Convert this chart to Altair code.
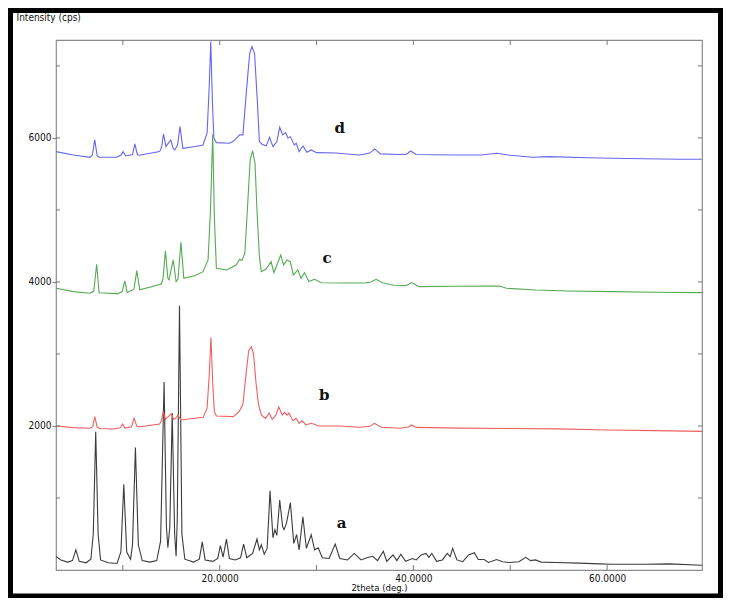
import altair as alt
import pandas as pd

# ---- data: (2theta deg, intensity cps) ----
trace_a = [(3.1, 190), (3.6, 140), (4.3, 110), (4.8, 130), (5.15, 280), (5.5, 120), (6.2, 100),
           (6.7, 150), (6.95, 500), (7.2, 1920), (7.45, 500), (7.7, 140), (8.5, 100), (9.4, 90),
           (9.8, 250), (10.1, 1190), (10.4, 250), (10.8, 150), (11.0, 350), (11.3, 1700), (11.6, 350),
           (12.0, 130), (12.8, 110), (13.5, 130), (13.9, 400), (14.26, 2610), (14.5, 600), (14.65, 310),
           (14.85, 600), (15.1, 2180), (15.35, 500), (15.5, 190), (15.62, 700), (15.85, 3670), (16.1, 500),
           (16.4, 150), (17.3, 110), (17.9, 150), (18.2, 390), (18.5, 140), (19.3, 120), (19.8, 160),
           (20.07, 340), (20.35, 180), (20.7, 430), (21.0, 160), (21.6, 140), (22.15, 170), (22.47, 360),
           (22.8, 170), (23.4, 230), (23.85, 430), (24.1, 280), (24.3, 350), (24.6, 220), (24.9, 300),
           (25.2, 1100), (25.5, 450), (25.7, 560), (25.9, 480), (26.2, 970), (26.5, 600), (26.65, 560),
           (26.9, 650), (27.3, 935), (27.65, 370), (27.94, 490), (28.2, 280), (28.59, 740), (28.95, 300),
           (29.45, 490), (29.8, 280), (30.17, 310), (30.6, 170), (31.3, 160), (31.93, 360), (32.4, 160),
           (33.2, 140), (33.9, 230), (34.6, 140), (35.2, 170), (35.8, 190), (36.3, 130), (36.9, 260),
           (37.25, 120), (37.9, 210), (38.3, 130), (38.7, 220), (39.2, 120), (39.9, 160), (40.3, 140),
           (40.8, 210), (41.3, 230), (41.6, 175), (41.9, 230), (42.4, 120), (43.0, 140), (43.5, 230),
           (43.8, 185), (44.05, 300), (44.5, 140), (45.1, 115), (45.7, 210), (46.3, 240), (46.7, 145),
           (47.3, 145), (47.75, 105), (48.6, 145), (49.2, 115), (49.9, 105), (50.9, 115), (51.6, 175),
           (52.1, 130), (52.6, 140), (53.2, 110), (54.7, 105), (57.1, 95), (59.2, 85), (60.5, 80),
           (64.0, 80), (66.4, 85), (69.8, 65)]

trace_b = [(3.1, 2000), (4.9, 1977), (6.6, 1968), (6.9, 1990), (7.1, 2130), (7.35, 1985), (7.6, 1965),
           (9.0, 1958), (9.75, 1975), (9.97, 2028), (10.25, 1970), (10.9, 1990), (11.16, 2106),
           (11.45, 1995), (11.8, 1990), (13.8, 2028), (14.0, 2080), (14.16, 2199), (14.4, 2090),
           (14.5, 2106), (15.0, 2167), (15.25, 2093), (15.4, 2100), (15.7, 2153), (16.0, 2083),
           (17.0, 2100), (18.3, 2120), (18.7, 2250), (18.92, 2700), (19.1, 3227), (19.28, 2600),
           (19.45, 2200), (19.66, 2139), (21.4, 2130), (22.0, 2199), (22.4, 2300), (22.7, 2700),
           (23.0, 3050), (23.27, 3102), (23.5, 3000), (23.75, 2600), (24.0, 2300), (24.3, 2153),
           (24.74, 2106), (25.1, 2180), (25.43, 2093), (25.8, 2150), (26.1, 2264), (26.46, 2153),
           (26.7, 2190), (26.94, 2150), (27.15, 2180), (27.56, 2074), (27.9, 2106), (28.2, 2037),
           (28.5, 2074), (28.9, 2014), (29.45, 2037), (30.3, 2000), (32.4, 2000), (34.4, 1982),
           (35.5, 1995), (35.98, 2037), (36.7, 1982), (38.6, 1968), (39.5, 1985), (39.8, 2014),
           (40.3, 1980), (45.0, 1970), (50.0, 1965), (55.0, 1960), (60.0, 1944), (65.0, 1935),
           (69.8, 1925)]

trace_c = [(3.1, 3912), (4.9, 3866), (6.6, 3843), (7.0, 3870), (7.3, 4245), (7.55, 3850), (9.5, 3838),
           (9.95, 3870), (10.2, 4014), (10.45, 3855), (11.15, 3900), (11.44, 4157), (11.75, 3890),
           (13.99, 3972), (14.15, 4050), (14.4, 4431), (14.65, 4050), (14.77, 4028), (15.2, 4306),
           (15.5, 4005), (15.7, 4040), (16.0, 4551), (16.3, 4051), (17.5, 4090), (18.28, 4143),
           (18.8, 4306), (19.05, 5000), (19.28, 6050), (19.45, 4900), (19.66, 4190), (20.7, 4167),
           (21.7, 4236), (22.06, 4315), (22.3, 4300), (22.6, 4398), (22.9, 5100), (23.15, 5700),
           (23.4, 5819), (23.65, 5650), (23.85, 5000), (24.1, 4352), (24.3, 4143), (24.8, 4180),
           (25.3, 4282), (25.6, 4130), (26.3, 4375), (26.6, 4236), (26.95, 4306), (27.3, 4282),
           (27.6, 4097), (28.07, 4167), (28.4, 4051), (28.76, 4130), (29.2, 4005), (29.8, 4037),
           (30.5, 3990), (33.0, 3985), (35.0, 3985), (35.6, 4000), (36.15, 4037), (36.8, 3990),
           (38.0, 3954), (39.3, 3950), (39.8, 3991), (40.6, 3935), (44.0, 3940), (48.9, 3944),
           (49.6, 3912), (52.6, 3889), (56.0, 3875), (60.5, 3866), (65.0, 3858), (69.8, 3852)]

trace_d = [(3.1, 5810), (4.9, 5764), (6.6, 5731), (6.85, 5760), (7.1, 5972), (7.35, 5750), (7.6, 5731),
           (9.35, 5731), (9.8, 5760), (10.03, 5810), (10.3, 5750), (11.0, 5770), (11.24, 5917),
           (11.5, 5770), (11.7, 5760), (13.8, 5810), (14.0, 5870), (14.2, 6055), (14.45, 5880),
           (14.57, 5903), (14.95, 5972), (15.2, 5850), (15.36, 5833), (15.65, 5900), (15.9, 6157),
           (16.2, 5856), (17.5, 5880), (18.28, 5903), (18.7, 6065), (18.92, 6713), (19.08, 7340),
           (19.25, 6500), (19.4, 5995), (19.66, 5935), (21.0, 5926), (21.37, 5949), (22.06, 6042),
           (22.4, 6042), (22.8, 6713), (23.1, 7176), (23.33, 7268), (23.6, 7176), (23.9, 6486),
           (24.1, 5949), (24.4, 5910), (24.8, 5890), (25.15, 6009), (25.5, 5880), (25.9, 5950),
           (26.2, 6148), (26.5, 6042), (26.8, 6074), (27.05, 6000), (27.3, 6018), (27.7, 5903),
           (27.9, 5926), (28.2, 5810), (28.6, 5889), (29.0, 5800), (29.45, 5833), (30.0, 5796),
           (32.0, 5790), (34.4, 5764), (35.5, 5790), (36.0, 5847), (36.6, 5778), (38.5, 5770),
           (39.3, 5775), (39.7, 5819), (40.3, 5770), (44.0, 5764), (47.0, 5764), (48.6, 5787),
           (50.0, 5760), (52.3, 5731), (54.0, 5741), (58.0, 5725), (62.0, 5715), (67.4, 5704),
           (69.8, 5704)]

series_names = ["a", "b", "c", "d"]
series_colors = ["#3c3c3c", "#f06060", "#55aa55", "#6666ee"]

label_text = ["a", "b", "c", "d"]
label_deg = [32.6, 30.8, 31.1, 32.4]
label_cps = [650, 2430, 4333, 6139]

x_tick_values = [10, 20, 30, 40, 50, 60]
y_tick_values = [1000, 2000, 3000, 4000, 5000, 6000, 7000]
x_label_values = [20, 40, 60]
y_label_values = [2000, 4000, 6000]

# ---- build tables ----
rows = []
for name, pts in zip(series_names, [trace_a, trace_b, trace_c, trace_d]):
    for d, c in pts:
        rows.append({"deg": d, "cps": c, "series": name})
df = pd.DataFrame(rows)
df_lab = pd.DataFrame({"deg": label_deg, "cps": label_cps, "label": label_text})
df_tx = pd.DataFrame({"t": x_tick_values})
df_ty = pd.DataFrame({"t": y_tick_values})

W, H = 646, 530
FONT = "DejaVu Sans Condensed"
xs = alt.Scale(domain=[3.1, 69.8], nice=False, zero=False)
ys = alt.Scale(domain=[0, 7360], nice=False, zero=False)

x_axis = alt.Axis(values=x_label_values, format=".4f", title="2theta (deg.)",
                  ticks=False, domain=False, grid=False, labelPadding=3,
                  titleY=20, titleBaseline="alphabetic",
                  labelFont=FONT, titleFont=FONT, labelFontSize=10, titleFontSize=9.5,
                  labelColor="#111111", titleColor="#111111", titleFontWeight="normal")
y_axis = alt.Axis(values=y_label_values, format="d", title="Intensity (cps)",
                  titleAngle=0, titleX=-40, titleY=-20, titleAlign="left",
                  titleBaseline="alphabetic", ticks=True, tickSize=4, tickColor="#777777",
                  domain=False, grid=False, labelPadding=1,
                  labelFont=FONT, titleFont=FONT, labelFontSize=10, titleFontSize=10,
                  labelColor="#111111", titleColor="#111111", titleFontWeight="normal")

lines = alt.Chart(df).mark_line(strokeWidth=1.1).encode(
    x=alt.X("deg:Q", scale=xs, axis=x_axis),
    y=alt.Y("cps:Q", scale=ys, axis=y_axis),
    color=alt.Color("series:N", scale=alt.Scale(domain=series_names, range=series_colors),
                    legend=None),
)

labels = alt.Chart(df_lab).mark_text(font="DejaVu Serif", fontWeight="bold", fontSize=15,
                                     color="#111111").encode(
    x=alt.X("deg:Q", scale=xs),
    y=alt.Y("cps:Q", scale=ys),
    text="label:N",
)

tick_color = "#777777"
xt_bottom = alt.Chart(df_tx).mark_rule(color=tick_color).encode(
    x=alt.X("t:Q", scale=xs), y=alt.value(H), y2=alt.value(H - 5))
xt_top = alt.Chart(df_tx).mark_rule(color=tick_color).encode(
    x=alt.X("t:Q", scale=xs), y=alt.value(0), y2=alt.value(5))
yt_left = alt.Chart(df_ty).mark_rule(color=tick_color).encode(
    y=alt.Y("t:Q", scale=ys), x=alt.value(0), x2=alt.value(4))
yt_right = alt.Chart(df_ty).mark_rule(color=tick_color).encode(
    y=alt.Y("t:Q", scale=ys), x=alt.value(W - 4), x2=alt.value(W))

frame = alt.Chart(pd.DataFrame({"k": [0]})).mark_rect(
    filled=False, stroke="black", strokeWidth=5).encode(
    x=alt.value(-45.5), x2=alt.value(664.5), y=alt.value(-29.5), y2=alt.value(556))

chart = alt.layer(lines, labels, xt_bottom, xt_top, yt_left, yt_right, frame).properties(
    width=W, height=H,
    padding={"left": 48, "top": 32, "right": 21, "bottom": 28},
    autosize=alt.AutoSizeParams(type="none"),
).configure_view(
    stroke="#8c8c8c", strokeWidth=1.2
)

chart.save("out.html", embed_options={"renderer": "svg", "actions": False})
